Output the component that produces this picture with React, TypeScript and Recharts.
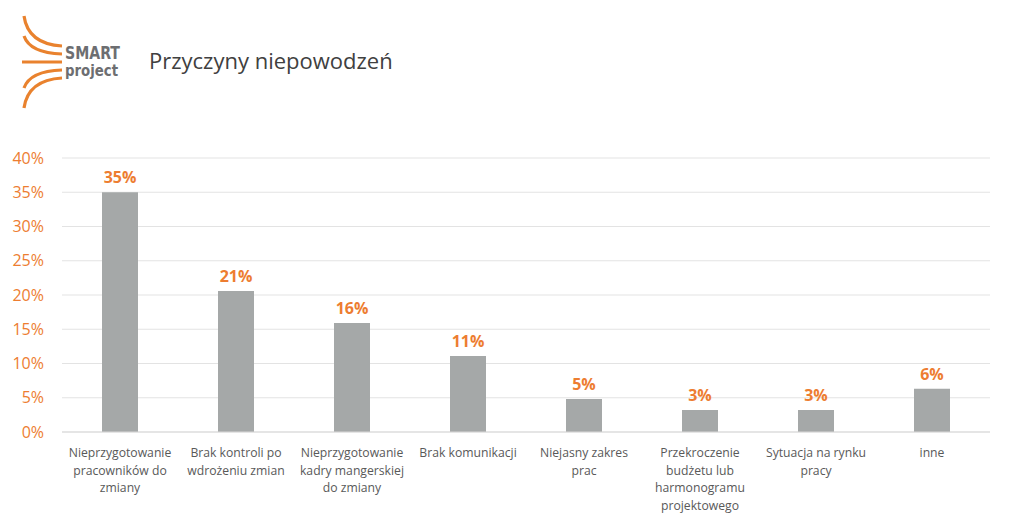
import React from 'react';
import { BarChart, Bar, XAxis, YAxis, CartesianGrid, LabelList } from 'recharts';

// Categories (line breaks follow the original wrapping)
const categories = [
    'Nieprzygotowanie\npracowników do\nzmiany',
    'Brak kontroli po\nwdrożeniu zmian',
    'Nieprzygotowanie\nkadry mangerskiej\ndo zmiany',
    'Brak komunikacji',
    'Niejasny zakres\nprac',
    'Przekroczenie\nbudżetu lub\nharmonogramu\nprojektowego',
    'Sytuacja na rynku\npracy',
    'inne',
];

// Share of answers
const shares = [0.35, 0.206, 0.159, 0.111, 0.048, 0.032, 0.032, 0.063];

const yTicks = [0, 0.05, 0.1, 0.15, 0.2, 0.25, 0.3, 0.35, 0.4];

const title = 'Przyczyny niepowodzeń';

const ORANGE = '#ED7D31';
const FONT = '"Open Sans", "Noto Sans", sans-serif';

const data = categories.map((name, i) => ({ name, value: shares[i] }));

const pct = (v: number) => `${Math.round(v * 100)}%`;

function CategoryTick({ x, y, payload }: any) {
    const lines = String(payload.value).split('\n');
    return (
        <text x={x} y={y} textAnchor="middle" fontSize={12.2} fill="#595959" fontFamily={FONT}>
            {lines.map((line, i) => (
                <tspan key={i} x={x} dy={i === 0 ? 17 : 17.5}>{line}</tspan>
            ))}
        </text>
    );
}

function Logo() {
    const stroke = '#E9822E';
    const logoFont = '"DejaVu Sans Condensed", "DejaVu Sans", sans-serif';
    return (
        <svg width={140} height={115} style={{ position: 'absolute', left: 0, top: 0 }}>
            <g fill="none" stroke={stroke} strokeWidth={3.2} strokeLinecap="butt">
                <path d="M24 16 Q 28 44 62 46" />
                <path d="M24 36 Q 30 53 62 54" />
                <path d="M22 62 L 62 62" />
                <path d="M24 88 Q 30 71 62 70" />
                <path d="M24 108 Q 28 80 62 78" />
            </g>
            <text x={65} y={59} fontFamily={logoFont} fontWeight="bold"
                fontSize={17} fill="#6D6E71" textLength={55} lengthAdjust="spacingAndGlyphs">SMART</text>
            <text x={65} y={76} fontFamily={logoFont} fontWeight="bold"
                fontSize={16} fill="#6D6E71" textLength={53} lengthAdjust="spacingAndGlyphs">project</text>
        </svg>
    );
}

export default function App() {
    return (
        <div style={{ position: 'absolute', left: 0, top: 0, width: 1024, height: 526, background: '#fff' }}>
            <Logo />
            <div style={{
                position: 'absolute', left: 149, top: 45, fontSize: 22, color: '#404040',
                fontFamily: FONT, whiteSpace: 'nowrap',
            }}>{title}</div>
            <BarChart
                width={1024}
                height={526}
                data={data}
                margin={{ top: 158, right: 34, bottom: 0, left: 7 }}
                barCategoryGap={0}
            >
                <CartesianGrid vertical={false} stroke="#E3E3E3" strokeWidth={1} />
                <XAxis
                    dataKey="name"
                    interval={0}
                    height={94}
                    tickLine={false}
                    axisLine={{ stroke: '#D9D9D9' }}
                    tick={<CategoryTick />}
                />
                <YAxis
                    width={55}
                    domain={[0, 0.4]}
                    ticks={yTicks}
                    tickFormatter={pct}
                    tickLine={false}
                    tickSize={0}
                    tickMargin={18}
                    axisLine={false}
                    tick={{ fontSize: 16, fill: ORANGE, fontFamily: FONT }}
                />
                <Bar dataKey="value" fill="#A5A8A8" barSize={36} isAnimationActive={false}>
                    <LabelList
                        dataKey="value"
                        position="top"
                        offset={9}
                        formatter={(v: any) => pct(Number(v))}
                        style={{ fontSize: 16, fontWeight: 'bold', fill: ORANGE, fontFamily: FONT }}
                    />
                </Bar>
            </BarChart>
        </div>
    );
}
